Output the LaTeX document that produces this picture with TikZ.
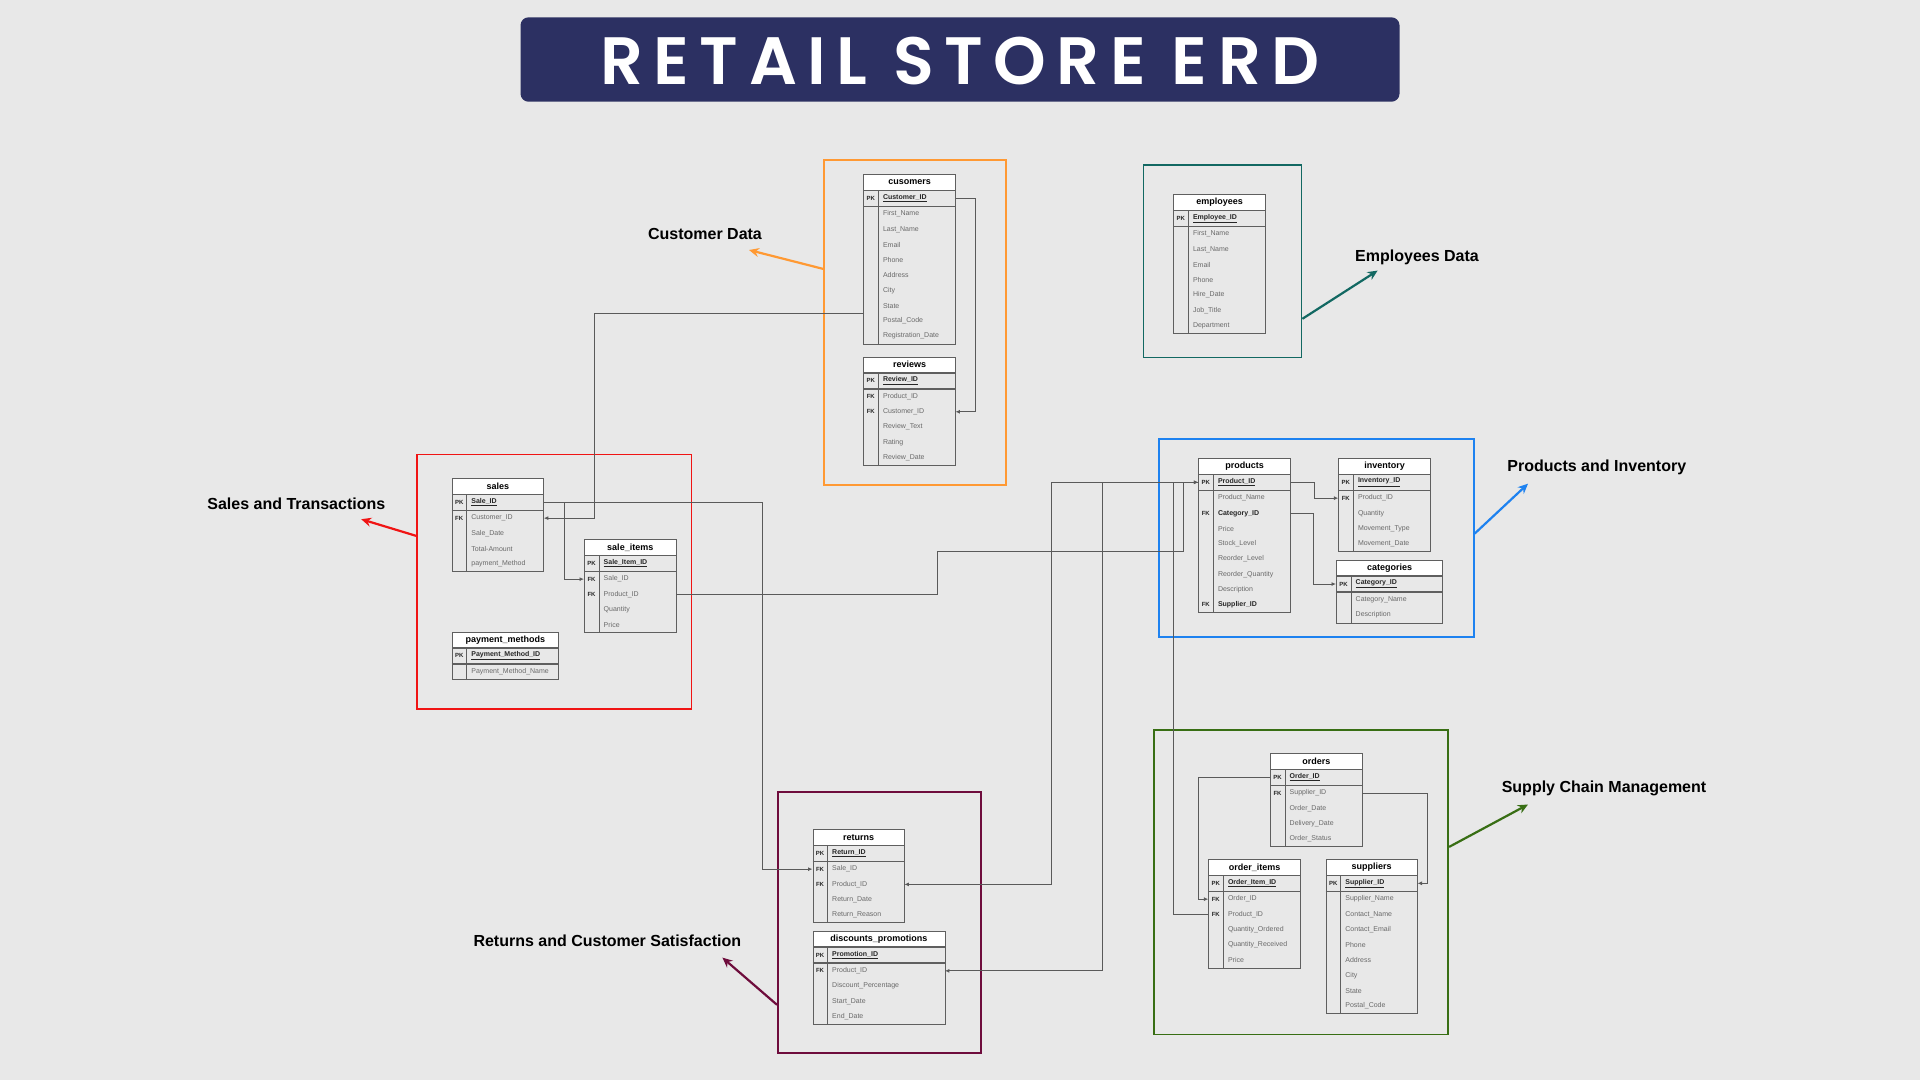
\documentclass[tikz,border=0pt]{standalone}
\usepackage{fontspec}
\setmainfont{Liberation Sans}
\IfFontExistsTF{Poppins SemiBold}
  {\newfontfamily\titlefont{Poppins SemiBold}[LetterSpace=15.5]\newcommand{\titleweight}{}}
  {\newfontfamily\titlefont{Poppins}[LetterSpace=15.5]\newcommand{\titleweight}{\bfseries}}
\usetikzlibrary{arrows.meta,positioning,calc}

\definecolor{bgcol}{RGB}{232,232,232}
\definecolor{navy}{RGB}{44,48,98}
\definecolor{tblline}{RGB}{95,95,95}
\definecolor{fldgray}{RGB}{105,105,105}
\definecolor{relC}{RGB}{90,90,90}
\definecolor{custC}{RGB}{255,153,51}
\definecolor{empC}{RGB}{18,104,98}
\definecolor{salesC}{RGB}{240,20,20}
\definecolor{prodC}{RGB}{30,130,240}
\definecolor{supC}{RGB}{56,110,20}
\definecolor{retC}{RGB}{110,12,60}

% table: name, x, y, width, title, pk field, rows, {key/field,...}
\newcommand{\erdtable}[8]{%
  \node[erdtitle, minimum width=#4pt, anchor=north west] (#1) at (#2,#3) {#5};
  \node[pkrow, minimum width=#4pt, anchor=north west] (#1-0) at (#1.south west) {};
  \node[keylbl] at ([xshift=7.5pt]#1-0.west) {PK};
  \node[pklbl] at ([xshift=19.5pt]#1-0.west) {\underline{#6}};
  \node[erdbody, minimum width=#4pt, minimum height=#7*15.25pt, anchor=north west] (#1-body) at (#1-0.south west) {};
  \foreach \k/\f [count=\i] in {#8}{
    \node[erdrow, minimum width=#4pt, anchor=north west] (#1-\i) at ([yshift={-(\i-1)*15.25pt}]#1-body.north west) {};
    \node[keylbl] at ([xshift=7.5pt]#1-\i.west) {\k};
    \node[fldlbl] at ([xshift=19.5pt]#1-\i.west) {\f};
  }
  \draw[erdline] ([xshift=15pt]#1-0.north west) -- ([xshift=15pt]#1-body.south west);
  \draw[erdline, line width=1.4pt] (#1-0.south west) -- (#1-0.south east);
}

\begin{document}
\begin{tikzpicture}[
  x=1pt, y=-1pt,
  every node/.style={font=\fontsize{7}{8}\selectfont},
  erdtitle/.style={draw=tblline, line width=0.8pt, fill=white, inner sep=0pt,
                   minimum height=15.2pt, font=\bfseries\fontsize{9}{10}\selectfont},
  pkrow/.style={draw=tblline, line width=0.8pt, inner sep=0pt, minimum height=15.2pt},
  erdbody/.style={draw=tblline, line width=0.8pt, inner sep=0pt},
  erdrow/.style={inner sep=0pt, minimum height=15.25pt},
  keylbl/.style={inner sep=0pt, font=\bfseries\fontsize{6}{7}\selectfont, text=black!85},
  pklbl/.style={anchor=west, inner sep=0pt, font=\bfseries\fontsize{7}{8}\selectfont, text=black!85},
  fldlbl/.style={anchor=west, inner sep=0pt, text=fldgray},
  erdline/.style={draw=tblline, line width=0.8pt},
  rel/.style={draw=relC, line width=0.9pt, -{Latex[length=4.5pt,width=4pt]}},
  grpbox/.style={draw=#1, line width=1.7pt, inner sep=0pt},
  grplbl/.style={font=\bfseries\fontsize{16}{18}\selectfont},
  tagarrow/.style={draw=#1, line width=2.2pt, -{Stealth[length=10pt,width=9pt]}},
  banner/.style={fill=navy, rounded corners=8pt},
  bannertxt/.style={text=white, inner sep=0pt, font=\titlefont\titleweight\fontsize{67}{70}\selectfont}
]
\fill[bgcol] (0,0) rectangle (1920,1080);
\useasboundingbox (0,0) rectangle (1920,1080);

% ===== Title =====
\node[banner, minimum width=879pt, minimum height=84.4pt] (banner) at (960,59.5) {};
\node[bannertxt] (title) at ([xshift=0pt,yshift=-1.5pt]banner.center) {RETAIL STORE ERD};

% ===== Group frames =====
\node[grpbox=custC, minimum width=182pt, minimum height=325pt, anchor=north west] (custbox) at (823,159) {};
\node[grpbox=empC, minimum width=158pt, minimum height=192.7pt, anchor=north west] (empbox) at (1142.7,164) {};
\node[grpbox=salesC, minimum width=274.4pt, minimum height=254.1pt, anchor=north west] (salesbox) at (416.3,453.7) {};
\node[grpbox=prodC, minimum width=314.7pt, minimum height=197.6pt, anchor=north west] (prodbox) at (1158.3,438.4) {};
\node[grpbox=supC, minimum width=294.1pt, minimum height=304.5pt, anchor=north west] (supbox) at (1153.3,729) {};
\node[grpbox=retC, minimum width=203pt, minimum height=260.5pt, anchor=north west] (retbox) at (777,791.3) {};

% ===== Tables =====
\erdtable{cusomers}{863.3}{174.3}{91.7}{cusomers}{Customer\_ID}{9}{
  /First\_Name, /Last\_Name, /Email, /Phone, /Address, /City, /State, /Postal\_Code, /Registration\_Date}
\erdtable{reviews}{863.3}{356.7}{91.7}{reviews}{Review\_ID}{5}{
  FK/Product\_ID, FK/Customer\_ID, /Review\_Text, /Rating, /Review\_Date}
\erdtable{employees}{1173.3}{194.3}{91.7}{employees}{Employee\_ID}{7}{
  /First\_Name, /Last\_Name, /Email, /Phone, /Hire\_Date, /Job\_Title, /Department}
\erdtable{sales}{451.7}{478.3}{91.7}{sales}{Sale\_ID}{4}{
  FK/Customer\_ID, /Sale\_Date, /Total-Amount, /payment\_Method}
\erdtable{saleitems}{584}{539.3}{91.7}{sale\_items}{Sale\_Item\_ID}{4}{
  FK/Sale\_ID, FK/Product\_ID, /Quantity, /Price}
\erdtable{paymethods}{451.7}{631.7}{106.7}{payment\_methods}{Payment\_Method\_ID}{1}{
  /Payment\_Method\_Name}
\erdtable{products}{1198.3}{458.3}{91.7}{products}{Product\_ID}{8}{
  /Product\_Name, FK/\textbf{\color{black!85}Category\_ID}, /Price, /Stock\_Level, /Reorder\_Level,
  /Reorder\_Quantity, /Description, FK/\textbf{\color{black!85}Supplier\_ID}}
\erdtable{inventory}{1338.3}{458.3}{91.7}{inventory}{Inventory\_ID}{4}{
  FK/Product\_ID, /Quantity, /Movement\_Type, /Movement\_Date}
\erdtable{categories}{1336}{560}{106.3}{categories}{Category\_ID}{2}{
  /Category\_Name, /Description}
\erdtable{orders}{1270}{753.3}{91.7}{orders}{Order\_ID}{4}{
  FK/Supplier\_ID, /Order\_Date, /Delivery\_Date, /Order\_Status}
\erdtable{orderitems}{1208.3}{859.3}{91.7}{order\_items}{Order\_Item\_ID}{5}{
  FK/Order\_ID, FK/Product\_ID, /Quantity\_Ordered, /Quantity\_Received, /Price}
\erdtable{suppliers}{1325.7}{859.3}{91}{suppliers}{Supplier\_ID}{8}{
  /Supplier\_Name, /Contact\_Name, /Contact\_Email, /Phone, /Address, /City, /State, /Postal\_Code}
\erdtable{returns}{812.5}{829.3}{91.5}{returns}{Return\_ID}{4}{
  FK/Sale\_ID, FK/Product\_ID, /Return\_Date, /Return\_Reason}
\erdtable{discounts}{812.5}{931}{132}{discounts\_promotions}{Promotion\_ID}{4}{
  FK/Product\_ID, /Discount\_Percentage, /Start\_Date, /End\_Date}

% ===== Relationships =====
\draw[rel] (cusomers-0.east) -- ++(20,0) |- (reviews-2.east);
\draw[rel] (cusomers-7.south west) -- ++(-269,0) |- (sales-1.east);
\draw[rel] (sales-0.east) -- ++(20.5,0) |- (saleitems-1.west);
\draw[rel] (sales-0.east) -- ++(218,0) |- (returns-1.west);
\draw[rel] (saleitems-2.east) -- ++(261.6,0) -- ++(0,-42.9) -- ++(246,0) |- (products-0.west);
\draw[rel] (products-0.west) -- ++(-146.6,0) |- (returns-2.east);
\draw[rel] (products-0.west) -- ++(-96,0) |- (discounts-1.east);
\draw[rel] (orderitems-2.west) -- ++(-35,0) |- (products-0.west);
\draw[rel] (products-0.east) -- ++(24,0) |- (inventory-1.west);
\draw[rel] (products-2.east) -- ++(23,0) |- (categories-0.west);
\draw[rel] (orders-0.west) -- ++(-71.7,0) |- (orderitems-1.west);
\draw[rel] (orders-1.east) -- ++(65,0) |- (suppliers-0.east);

% ===== Group labels =====
\node[grplbl] (custlbl) at (705,234) {Customer Data};
\node[grplbl] (emplbl) at (1417,257) {Employees Data};
\node[grplbl] (saleslbl) at (296.3,503.3) {Sales and Transactions};
\node[grplbl] (prodlbl) at (1596.8,467.8) {Products and Inventory};
\node[grplbl] (suplbl) at (1604,788.6) {Supply Chain Management};
\node[grplbl] (retlbl) at (607.3,940.4) {Returns and Customer Satisfaction};

\draw[tagarrow=custC] ([yshift=53.5pt]custbox.west) -- ([xshift=44pt,yshift=-16pt]custlbl.center);
\draw[tagarrow=empC] ([yshift=-57.6pt]empbox.east) -- ([xshift=-39.4pt,yshift=-13.6pt]emplbl.center);
\draw[tagarrow=salesC] ([yshift=45.7pt]salesbox.west) -- ([xshift=64.9pt,yshift=-15.9pt]saleslbl.center);
\draw[tagarrow=prodC] ([yshift=4.5pt]prodbox.east) -- ([xshift=-68.8pt,yshift=-15.9pt]prodlbl.center);
\draw[tagarrow=supC] ([yshift=35.2pt]supbox.east) -- ([xshift=-76pt,yshift=-15.9pt]suplbl.center);
\draw[tagarrow=retC] ([yshift=-82.4pt]retbox.west) -- ([xshift=115.1pt,yshift=-17.2pt]retlbl.center);
\end{tikzpicture}
\end{document}
